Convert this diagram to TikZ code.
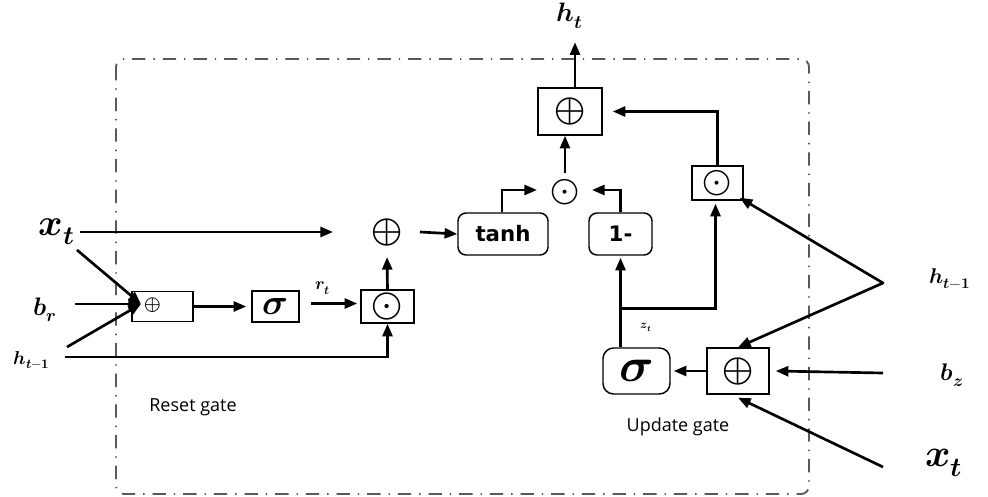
\documentclass[tikz,border=0pt]{standalone}
\usepackage{fontspec}
\usepackage{unicode-math}
\setmathfont{Latin Modern Math}
\newfontfamily\gatefont{Open Sans}
\newfontfamily\opfont{DejaVu Sans}
\usetikzlibrary{arrows.meta,calc}
\newcommand{\fs}[1]{\fontsize{#1}{#1}\selectfont}
\begin{document}
\begin{tikzpicture}[x=0.75pt,y=-0.75pt,
  conn/.style={line width=2pt,-{Triangle[length=9.5pt,width=7.5pt]}},
  sqbox/.style={draw,line width=1.1pt,inner sep=0pt},
  rbox/.style={draw,line width=1.1pt,inner sep=0pt,rounded corners=6pt},
  lbl/.style={inner sep=0pt},
  frame/.style={draw=black!65,line width=1.4pt,rounded corners=6pt,
    dash pattern=on 10pt off 6pt on 1pt off 6pt}]
\useasboundingbox (0,0) rectangle (988,496);
\draw[frame] (116,59) rectangle (809,494);

% labels
\node[lbl,font=\fs{28}] (xtl) at (57,232) {$\symbfit{x}_{\symbfit{t}}$};
\node[lbl,font=\fs{19}] (br) at (45,310) {$\symbfit{b}_{\symbfit{r}}$};
\node[lbl,font=\fs{14}] (hl) at (32,360) {$\symbfit{h}_{\symbfit{t}-\symbf{1}}$};
\node[lbl,font=\fs{20}] (ht) at (570,16) {$\symbfit{h}_{\symbfit{t}}$};
\node[lbl,font=\fs{16}] (hr) at (950,279) {$\symbfit{h}_{\symbfit{t}-\symbf{1}}$};
\node[lbl,font=\fs{18}] (bz) at (952,375) {$\symbfit{b}_{\symbfit{z}}$};
\node[lbl,font=\fs{29}] (xtr) at (944,463) {$\symbfit{x}_{\symbfit{t}}$};
\node[lbl,font=\fs{13}] (rt) at (323,288) {$\symbfit{r}_{\symbfit{t}}$};
\node[lbl,font=\fs{9}] (zt) at (646,327) {$\symbfit{z}_{\symbfit{t}}$};
\node[lbl,font=\gatefont\fs{13.5}] (reset) at (193,407) {Reset gate};
\node[lbl,font=\gatefont\fs{13.5}] (update) at (678,427) {Update gate};

% operation nodes
\node[sqbox,minimum width=45.75pt,minimum height=22.5pt] (rplus) at (162.5,306.5) {};
\node[lbl,font=\fs{16}] (rplussym) at (153,305) {$\oplus$};
\node[sqbox,minimum width=35.25pt,minimum height=23.25pt,font=\fs{27}] (sig1) at (275.5,306.5) {$\symbfit{\sigma}$};
\node[sqbox,minimum width=39.75pt,minimum height=24.75pt,font=\fs{30}] (odot1) at (387.5,306.5) {$\odot$};
\node[lbl,font=\fs{30}] (plus1) at (387,232) {$\oplus$};
\node[rbox,minimum width=67.5pt,minimum height=31.5pt,font=\opfont\bfseries\fs{16}] (tanh) at (503,234) {tanh};
\node[rbox,minimum width=47.25pt,minimum height=31.5pt,font=\opfont\bfseries\fs{16}] (one) at (620.5,234) {1-};
\node[lbl,font=\fs{28}] (odot2) at (565,192) {$\odot$};
\node[sqbox,minimum width=48pt,minimum height=35.25pt,font=\fs{30}] (plus2) at (570,111.5) {$\oplus$};
\node[sqbox,minimum width=38.25pt,minimum height=25.5pt,font=\fs{28}] (odot3) at (717.5,183) {$\odot$};
\node[rbox,rounded corners=8pt,minimum width=50.25pt,minimum height=34.5pt,font=\fs{36}] (sig2) at (636.5,371) {$\symbfit{\sigma}$};
\node[sqbox,minimum width=46.5pt,minimum height=34.5pt,font=\fs{30}] (plus3) at (738,371) {$\oplus$};

\coordinate (rin) at (141,304);
\coordinate (hapex) at (883,283);

% reset gate connectors
\draw[conn] ($(xtl)+(20,18)$) -- (rin);
\draw[conn] ($(br)+(30,-6)$) -- (rin);
\draw[conn] ($(hl)+(35,-13)$) -- (rin);
\draw[conn] ($(xtl)+(23,0)$) -- ($(plus1)+(-54,0)$);
\draw[conn] ($(hl)+(33,-3)$) -| (odot1.south);
\draw[conn] (rplus.east) -- ($(sig1.west)+(-5,0)$);
\draw[conn] ($(sig1.east)+(11,-3)$) -- ($(odot1.west)+(-3,-3)$);
\draw[conn] (odot1.north) -- ($(plus1)+(0,25)$);
\draw[conn] ($(plus1)+(33,0)$) -- (tanh.west);

% candidate / output
\draw[conn] ($(tanh.north)+(-1,0)$) |- ($(odot2)+(-28,-2)$);
\draw[conn] (one.north) |- ($(odot2)+(27,-2)$);
\draw[conn] ($(odot2)+(0,-19)$) -- (odot2 |- plus2.south);
\draw[conn] ([xshift=3.75pt]plus2.north) -- ++(0,-45);
\draw[conn] (odot3.north) |- ($(plus2.east)+(10,0)$);

% update gate
\draw[conn] ($(sig2.north)+(-16,0)$) -- ($(one.south)+(0,2)$);
\draw[conn] ($(sig2.north)+(-16,-39)$) -| ($(odot3.south)+(-2,3)$);
\draw[conn] (plus3.west) -- ($(sig2.east)+(3,0)$);
\draw[conn] ($(bz)+(-69,-2)$) -- ($(plus3.east)+(6,0)$);
\draw[conn] ($(xtr)+(-61,4)$) -- ($(plus3.south)+(0,3)$);
\draw[conn,line cap=round] (hapex) -- (plus3.north);
\draw[conn,line cap=round] (hapex) -- ($(odot3.south east)+(-4,-3)$);
\end{tikzpicture}
\end{document}
